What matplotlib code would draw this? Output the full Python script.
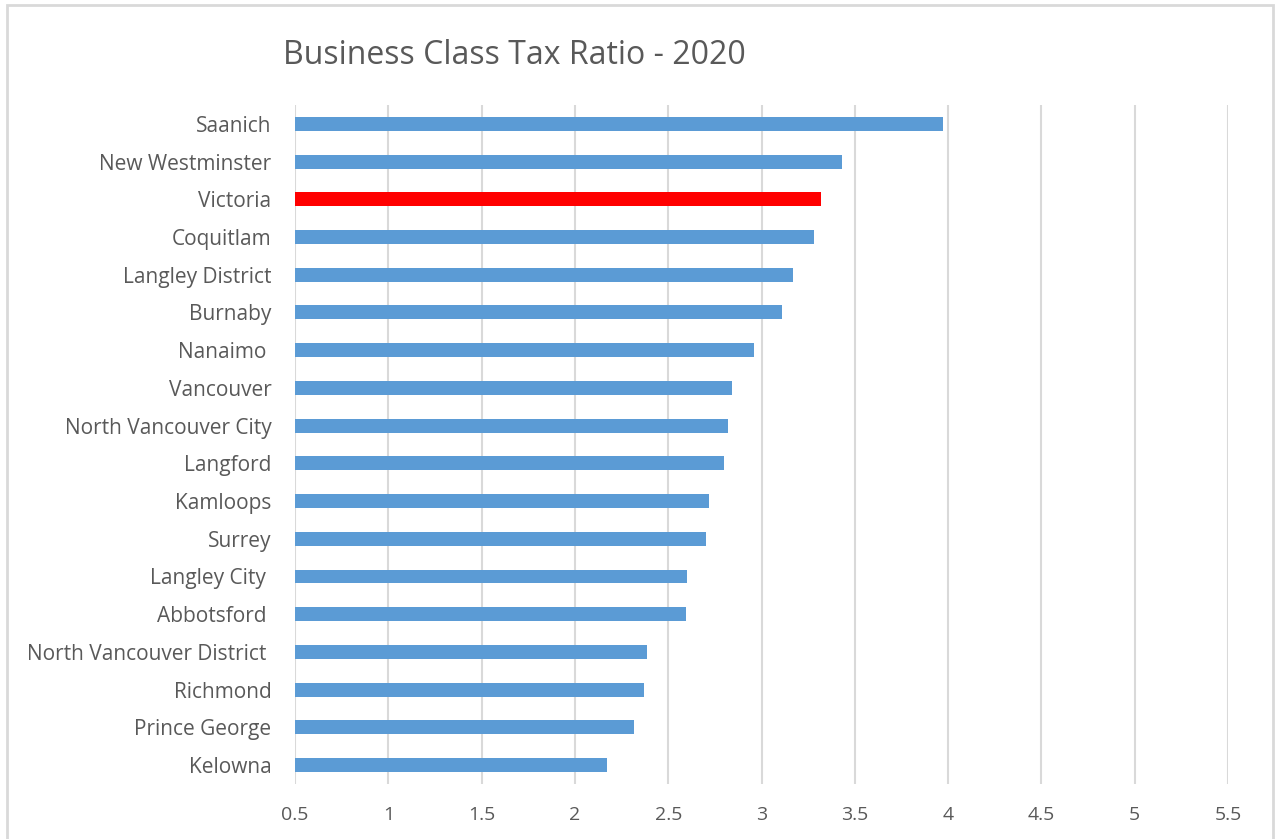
import matplotlib.pyplot as plt
from matplotlib.patches import Rectangle

cities = ["Saanich", "New Westminster", "Victoria", "Coquitlam", "Langley District",
          "Burnaby", "Nanaimo ", "Vancouver", "North Vancouver City", "Langford",
          "Kamloops", "Surrey", "Langley City ", "Abbotsford ",
          "North Vancouver District ", "Richmond", "Prince George", "Kelowna"]
ratios = [3.97, 3.43, 3.32, 3.28, 3.17, 3.11, 2.96, 2.84, 2.82, 2.80,
          2.72, 2.70, 2.60, 2.595, 2.385, 2.37, 2.315, 2.17]
highlight = "Victoria"
x_ticks = [0.5, 1, 1.5, 2, 2.5, 3, 3.5, 4, 4.5, 5, 5.5]
x_tick_labels = ["0.5", "1", "1.5", "2", "2.5", "3", "3.5", "4", "4.5", "5", "5.5"]

plt.rcParams['font.family'] = ['Open Sans', 'DejaVu Sans']
text_color = "#595959"

fig = plt.figure(figsize=(12.76, 8.39), dpi=100)
ax = fig.add_axes([0.2312, 0.0656, 0.9624 - 0.2312, 0.8749 - 0.0656])

colors = ["#ff0000" if c == highlight else "#5b9bd5" for c in cities]
ypos = list(range(len(cities)))
ax.barh(ypos, [r - 0.5 for r in ratios], left=0.5, height=0.37, color=colors, zorder=3)

ax.set_xlim(0.5, 5.5)
ax.set_ylim(len(cities) - 0.5, -0.5)
ax.set_xticks(x_ticks)
ax.set_xticklabels(x_tick_labels)
ax.set_yticks(ypos)
ax.set_yticklabels(cities)
ax.tick_params(axis='both', length=0, colors=text_color)
ax.tick_params(axis='y', pad=17, labelsize=15)
ax.tick_params(axis='x', pad=16, labelsize=14)
ax.grid(axis='x', color="#d9d9d9", linewidth=1.5, zorder=0)
for s in ax.spines.values():
    s.set_visible(False)

fig.text(283 / 1276, 1 - 55 / 839, "Business Class Tax Ratio - 2020", fontsize=23,
         color=text_color, ha='left', va='center')

fig.patches.append(Rectangle((7 / 1276, -0.01), (1273 - 7) / 1276, 1 - 5 / 839 + 0.01,
                             transform=fig.transFigure, fill=False,
                             edgecolor="#d9d9d9", linewidth=2))

fig.savefig("out.png", dpi=100)
